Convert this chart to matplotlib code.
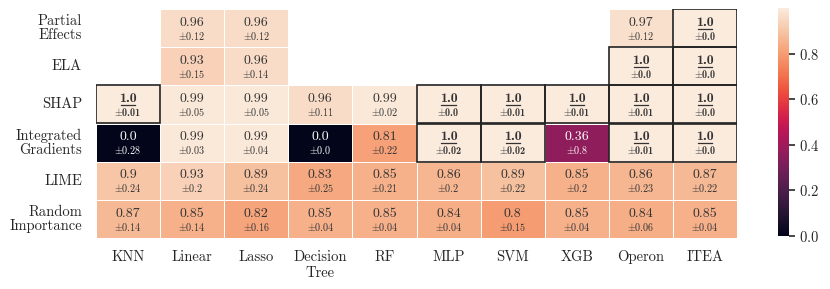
import numpy as np
import matplotlib
matplotlib.use("Agg")
import matplotlib.pyplot as plt
import seaborn as sns
from matplotlib.patches import Rectangle

methods = ["Partial\nEffects", "ELA", "SHAP", "Integrated\nGradients", "LIME", "Random\nImportance"]
models = ["KNN", "Linear", "Lasso", "Decision\nTree", "RF", "MLP", "SVM", "XGB", "Operon", "ITEA"]
nan = np.nan
partial_mean = [nan, 0.96, 0.96, nan, nan, nan, nan, nan, 0.97, 1.0]
partial_std = [nan, 0.12, 0.12, nan, nan, nan, nan, nan, 0.12, 0.0]
ela_mean = [nan, 0.93, 0.96, nan, nan, nan, nan, nan, 1.0, 1.0]
ela_std = [nan, 0.15, 0.14, nan, nan, nan, nan, nan, 0.0, 0.0]
shap_mean = [1.0, 0.99, 0.99, 0.96, 0.99, 1.0, 1.0, 1.0, 1.0, 1.0]
shap_std = [0.01, 0.05, 0.05, 0.11, 0.02, 0.0, 0.01, 0.01, 0.01, 0.0]
ig_mean = [0.0, 0.99, 0.99, 0.0, 0.81, 1.0, 1.0, 0.36, 1.0, 1.0]
ig_std = [0.28, 0.03, 0.04, 0.0, 0.22, 0.02, 0.02, 0.8, 0.01, 0.0]
lime_mean = [0.9, 0.93, 0.89, 0.83, 0.85, 0.86, 0.89, 0.85, 0.86, 0.87]
lime_std = [0.24, 0.2, 0.24, 0.25, 0.21, 0.2, 0.22, 0.2, 0.23, 0.22]
rand_mean = [0.87, 0.85, 0.82, 0.85, 0.85, 0.84, 0.8, 0.85, 0.84, 0.85]
rand_std = [0.14, 0.14, 0.16, 0.04, 0.04, 0.04, 0.15, 0.04, 0.06, 0.04]

means = np.array([partial_mean, ela_mean, shap_mean, ig_mean, lime_mean, rand_mean])
stds = np.array([partial_std, ela_std, shap_std, ig_std, lime_std, rand_std])

plt.rcParams['font.family'] = ['cmr10', 'DejaVu Serif']
plt.rcParams['mathtext.fontset'] = 'cm'
plt.rcParams['axes.unicode_minus'] = False
plt.rcParams['axes.formatter.use_mathtext'] = True

fig = plt.figure(figsize=(8.3, 2.89), dpi=100)
ax = fig.add_axes([96/830, 1-238/289, 641/830, 229/289])
cax = fig.add_axes([778/830, 1-236/289, 11/830, 228/289])

sns.heatmap(means, ax=ax, cbar_ax=cax, cmap="rocket", vmin=0, vmax=1,
            linewidths=0.5, linecolor="white", mask=np.isnan(means))

txtc = '0.2'
for i in range(means.shape[0]):
    for j in range(means.shape[1]):
        m = means[i, j]
        if np.isnan(m):
            continue
        s = stds[i, j]
        col = 'white' if m < 0.5 else txtc
        best = round(m, 2) == 1.0
        if best:
            ax.text(j + 0.5, i + 0.36, str(m), ha='center', va='center', fontsize=10,
                    family=['cmb10', 'DejaVu Serif'], color=col)
            ax.plot([j + 0.39, j + 0.61], [i + 0.52, i + 0.52], color=col, lw=0.9)
            ax.text(j + 0.5, i + 0.70, r'$\pm$' + str(s), ha='center', va='center',
                    fontsize=7.3, family=['cmb10', 'DejaVu Serif'], color=col)
            ax.add_patch(Rectangle((j, i), 1, 1, fill=False, edgecolor='#222222', lw=1.2, zorder=5))
        else:
            ax.text(j + 0.5, i + 0.36, str(m), ha='center', va='center', fontsize=10, color=col)
            ax.text(j + 0.5, i + 0.70, r'$\pm$' + str(s), ha='center', va='center',
                    fontsize=7.3, color=col)

ax.set_xticks(np.arange(len(models)) + 0.5)
ax.set_xticklabels(models, rotation=0, fontsize=10.5, color='0.15', va='top')
ax.set_yticks(np.arange(len(methods)) + 0.5)
ax.set_yticklabels(methods, rotation=0, fontsize=10.5, color='0.15', ha='right', linespacing=1.0)
ax.tick_params(length=0, pad=9)
ax.tick_params(axis='y', pad=10)

cax.tick_params(labelsize=10.5, length=4, width=1.2, colors='0.15')
cax.set_yticks([0.0, 0.2, 0.4, 0.6, 0.8])
for sp in cax.spines.values():
    sp.set_visible(False)

fig.savefig("out.png", dpi=100)
